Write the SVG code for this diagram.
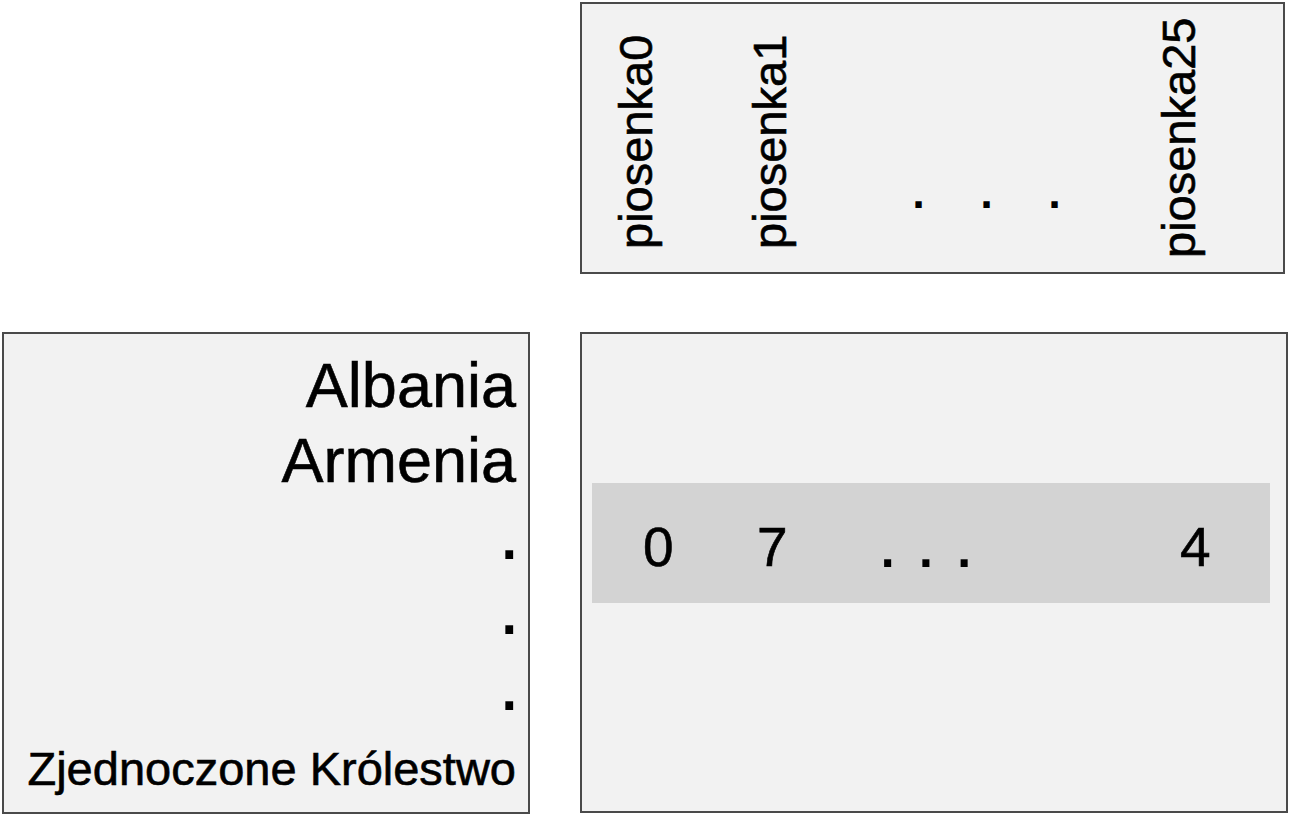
<svg xmlns="http://www.w3.org/2000/svg" width="1292" height="816" viewBox="0 0 1292 816">
<style>
.box{fill:#f2f2f2;stroke:#4a4a4a;stroke-width:2}
.t{font-family:"Liberation Sans",Arial,sans-serif;fill:#000;stroke:#000;stroke-width:0.6}
.row{font-size:63px;text-anchor:end}
.song{font-size:47px}
.num{font-size:55px}
.dot{stroke-width:1.8}
</style>
<rect width="1292" height="816" fill="#ffffff"/>
<g id="songs">
<rect class="box" x="581" y="3" width="703" height="270"/>
<text class="t song" transform="translate(652,249) rotate(-90)">piosenka0</text>
<text class="t song" transform="translate(786,249) rotate(-90)">piosenka1</text>
<text class="t song" transform="translate(1195,258) rotate(-90)">piosenka25</text>
<text class="t song dot" x="912" y="207">.</text>
<text class="t song dot" x="980" y="207">.</text>
<text class="t song dot" x="1048" y="207">.</text>
</g>
<g id="countries">
<rect class="box" x="3" y="333" width="526" height="480"/>
<text class="t row" x="516" y="407">Albania</text>
<text class="t row" x="516" y="482">Armenia</text>
<text class="t row dot" x="518" y="558">.</text>
<text class="t row dot" x="518" y="633">.</text>
<text class="t row dot" x="518" y="709">.</text>
<text class="t row" x="516" y="785" style="font-size:47px">Zjednoczone Królestwo</text>
</g>
<g id="matrix">
<rect class="box" x="581" y="333" width="706" height="479"/>
<rect x="592" y="483" width="678" height="120" fill="#d3d3d3"/>
<text class="t num" x="643" y="566">0</text>
<text class="t num" x="757" y="566">7</text>
<text class="t num dot" x="880" y="566" style="letter-spacing:23px">...</text>
<text class="t num" x="1180" y="566">4</text>
</g>
<g id="connectors"/>
</svg>
